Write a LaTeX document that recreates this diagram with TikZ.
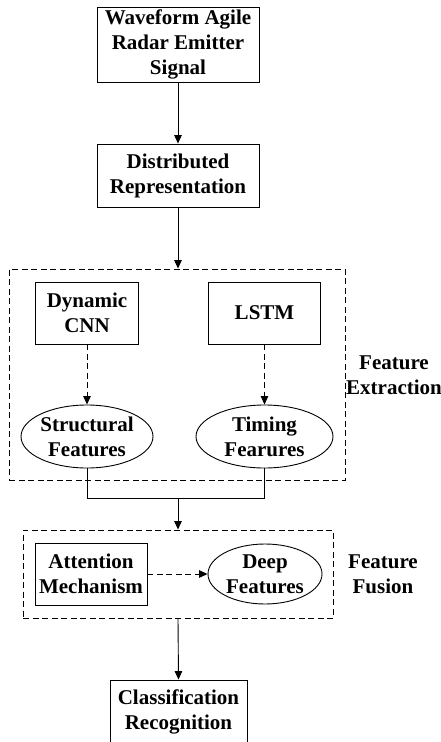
\documentclass[tikz,border=0pt]{standalone}
\usepackage{fontspec}
\setmainfont{Liberation Serif}
\usetikzlibrary{arrows.meta,shapes.geometric}
\begin{document}
\begin{tikzpicture}[x=1pt,y=-1pt,
  every node/.style={font=\fontsize{21}{25}\selectfont\bfseries, align=center, inner sep=0pt},
  box/.style={draw, line width=0.9pt, rectangle},
  oval/.style={draw, line width=0.9pt, ellipse},
  group/.style={draw, line width=0.9pt, dash pattern=on 6pt off 3.5pt, rectangle},
  conn/.style={line width=0.9pt},
  arr/.style={line width=0.9pt, -{Triangle[length=8.5pt,width=7.5pt]}},
  darr/.style={line width=0.9pt, dash pattern=on 6pt off 3.5pt, -{Triangle[length=8.5pt,width=7.5pt]}}
]
\useasboundingbox (0,0) rectangle (441,742);
\fill[white] (0,0) rectangle (441,742);

\node[box, minimum width=162pt, minimum height=75pt] (sig) at (178,44.5) {Waveform Agile\\Radar Emitter\\Signal};
\node[box, minimum width=162pt, minimum height=63pt] (dist) at (178,175.5) {Distributed\\Representation};

\node[group, minimum width=336pt, minimum height=211pt] (fe) at (177,374.5) {};
\node[box, minimum width=103pt, minimum height=62pt] (cnn) at (87,313) {Dynamic\\CNN};
\node[box, minimum width=112pt, minimum height=62pt] (lstm) at (264.5,313) {LSTM};
\node[oval, minimum width=124pt, minimum height=63pt, inner ysep=-1pt] (sf) at (87,436.5) {Structural\\Features};
\node[oval, minimum width=137pt, minimum height=63pt, inner ysep=-1pt] (tf) at (264.5,436.5) {Timing\\Fearures};
\node (felab) at (394,375) {Feature\\Extraction};

\coordinate (m) at (178,498);

\node[group, minimum width=310pt, minimum height=88pt] (ff) at (178,574) {};
\node[box, minimum width=112pt, minimum height=62pt] (att) at (91,574) {Attention\\Mechanism};
\node[oval, minimum width=114pt, minimum height=60pt, inner ysep=-3pt] (deep) at (265,574) {Deep\\Features};
\node (fflab) at (383,574.5) {Feature\\Fusion};

\node[box, minimum width=137pt, minimum height=63pt] (cls) at (178.5,711.5) {Classification\\Recognition};

\draw[arr] (sig.south) -- (dist.north);
\draw[arr] (dist.south) -- (fe.north -| dist.south);
\draw[darr] (cnn.south) -- (sf.north);
\draw[darr] (lstm.south) -- (tf.north);
\draw[conn] (sf.south) |- (m);
\draw[conn] (m) -| (tf.south);
\draw[arr] (m) -- (ff.north);
\draw[darr] (att.east) -- (deep.west);
\draw[arr] (ff.south) -- (cls.north);
\end{tikzpicture}
\end{document}
